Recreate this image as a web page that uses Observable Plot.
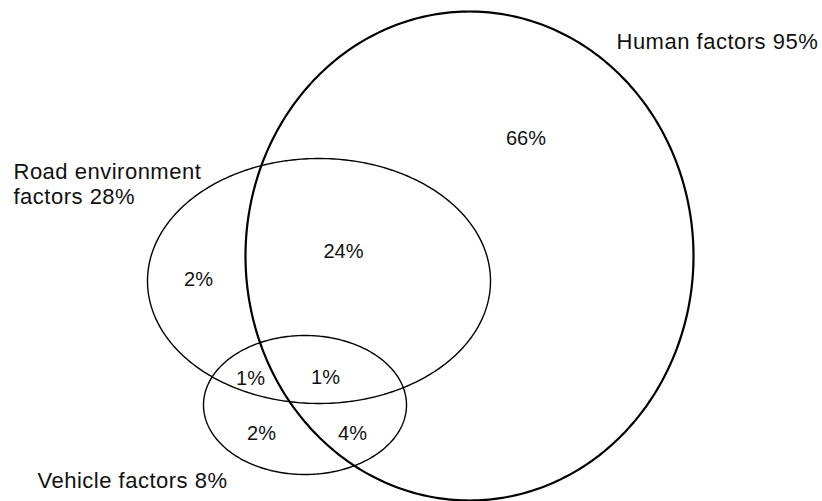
<!DOCTYPE html>
<html>
<head>
<meta charset="utf-8">
<script src="https://cdn.jsdelivr.net/npm/d3@7"></script>
<script src="https://cdn.jsdelivr.net/npm/@observablehq/plot@0.6"></script>
<style>
  html, body { margin: 0; padding: 0; background: #fff; }
  #chart svg { display: block; }
</style>
</head>
<body>
<div id="chart"></div>
<script>
// Sets: ellipse centre and radii in chart units
const setNames   = ["Human factors", "Road environment factors", "Vehicle factors"];
const setCx      = [469, 318.5, 304.5];
const setCy      = [255.5, 280.5, 404.5];
const setRx      = [224, 171.5, 101.5];
const setRy      = [244.5, 122.5, 69.5];
const setWidths  = [2.2, 1.4, 1.4];

// Set labels (one line each)
const labelText = ["Human factors 95%", "Road environment", "factors 28%", "Vehicle factors 8%"];
const labelX    = [616, 13, 13, 37];
const labelY    = [48, 178, 203, 487];

// Region percentages
const regionText = ["66%", "24%", "2%", "1%", "1%", "2%", "4%"];
const regionX    = [525.5, 343, 198, 250, 325, 261, 352];
const regionY    = [144, 257, 285, 384, 383, 439, 439];

const W = 822, H = 501;

const ellipsePts = [];
setNames.forEach((name, i) => {
  const n = 360;
  for (let k = 0; k < n; k++) {
    const t = (2 * Math.PI * k) / n;
    ellipsePts.push({set: name, w: setWidths[i], x: setCx[i] + setRx[i] * Math.cos(t), y: setCy[i] + setRy[i] * Math.sin(t)});
  }
});

const labels = labelText.map((t, i) => ({t, x: labelX[i], y: labelY[i]}));
const regions = regionText.map((t, i) => ({t, x: regionX[i], y: regionY[i]}));

const chart = Plot.plot({
  width: W,
  height: H,
  margin: 0,
  x: {domain: [0, W], axis: null},
  y: {domain: [H, 0], axis: null},
  style: {background: "#fff", fontFamily: "'Liberation Sans', Arial, sans-serif"},
  marks: [
    ...setNames.map((name, i) =>
      Plot.line(ellipsePts.filter(d => d.set === name), {
        x: "x", y: "y", curve: "linear-closed", stroke: "#000", strokeWidth: setWidths[i]
      })
    ),
    Plot.text(labels, {x: "x", y: "y", text: "t", textAnchor: "start", lineAnchor: "bottom", fontSize: 22, fill: "#111", style: "letter-spacing:0.5px"}),
    Plot.text(regions, {x: "x", y: "y", text: "t", textAnchor: "middle", lineAnchor: "bottom", fontSize: 20, fill: "#111"})
  ]
});
chart.querySelectorAll("g[aria-label='text']").forEach((g, i) => { if (i === 0) g.style.letterSpacing = "0.5px"; });
document.getElementById("chart").appendChild(chart);
</script>
</body>
</html>
